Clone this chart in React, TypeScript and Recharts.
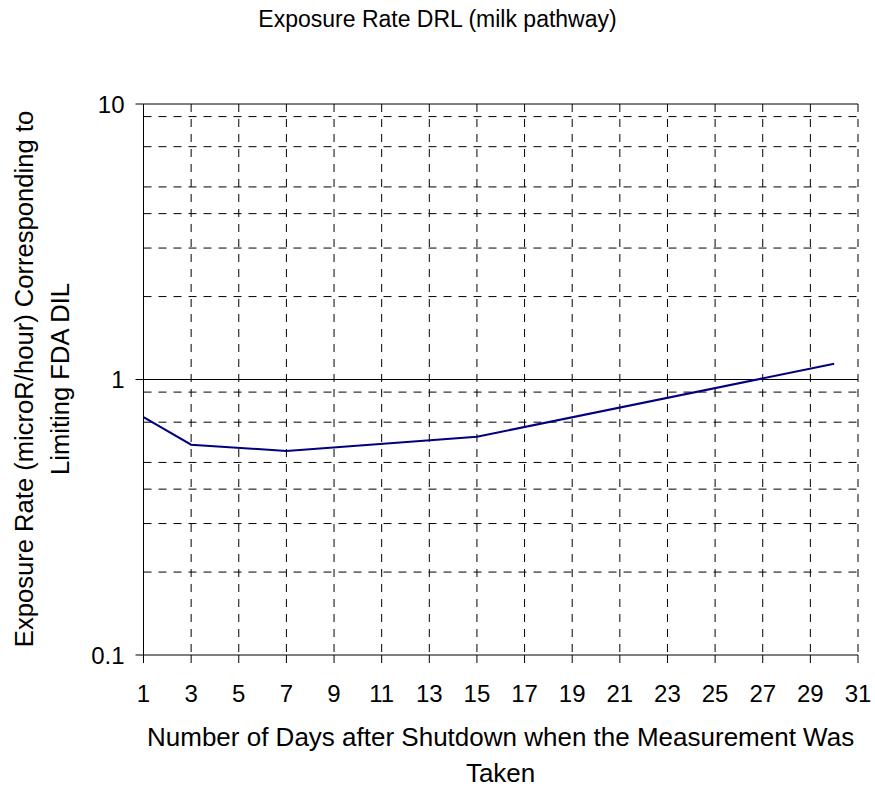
import React from 'react';
import { LineChart, Line, XAxis, YAxis, CartesianGrid, ReferenceLine } from 'recharts';

// days after shutdown where the curve bends, and the exposure rate
const days = [1, 3, 7, 15, 30];
const rates = [0.73, 0.58, 0.55, 0.62, 1.14];

const xTicks = [1, 3, 5, 7, 9, 11, 13, 15, 17, 19, 21, 23, 25, 27, 29, 31];
const yTicks = [0.1, 1, 10];
const minorY = [0.2, 0.3, 0.4, 0.5, 0.6, 0.7, 0.8, 0.9, 2, 3, 4, 5, 6, 7, 8, 9];
const majorY = [1, 10];

const FONT = '"Liberation Sans", Arial, sans-serif';

const data = days.map((d, i) => ({ day: d, rate: rates[i] }));

const App: React.FC = () => {
    return (
        <div style={{ position: 'absolute', left: 0, top: 0, width: 875, height: 788, background: '#fff', fontFamily: FONT }}>
            <LineChart width={875} height={788} data={data} margin={{ top: 104, right: 17, bottom: 73, left: 0 }}>
                <CartesianGrid
                    stroke="#000"
                    strokeDasharray="8 7"
                    horizontalValues={minorY}
                    verticalValues={xTicks.slice(1)}
                />
                {majorY.map(v => (
                    <ReferenceLine key={v} y={v} stroke="#000" strokeWidth={1} ifOverflow="visible" />
                ))}
                <XAxis
                    type="number"
                    dataKey="day"
                    domain={[1, 31]}
                    ticks={xTicks}
                    interval={0}
                    height={60}
                    tickSize={8}
                    tickMargin={22}
                    axisLine={{ stroke: '#000' }}
                    tickLine={{ stroke: '#000' }}
                    tick={{ fill: '#000', fontSize: 24, fontFamily: FONT }}
                />
                <YAxis
                    scale="log"
                    domain={[0.1, 10]}
                    ticks={yTicks}
                    allowDataOverflow
                    width={143.5}
                    tickSize={8}
                    tickMargin={11}
                    tickFormatter={(v: number) => String(v)}
                    axisLine={{ stroke: '#000' }}
                    tickLine={{ stroke: '#000' }}
                    tick={{ fill: '#000', fontSize: 24, fontFamily: FONT }}
                />
                <Line
                    type="linear"
                    dataKey="rate"
                    stroke="#000080"
                    strokeWidth={2}
                    dot={false}
                    isAnimationActive={false}
                />
            </LineChart>
            <svg width={875} height={788} style={{ position: 'absolute', left: 0, top: 0, pointerEvents: 'none' }}>
                <text x={437.5} y={27} textAnchor="middle" fontSize={23} fontFamily={FONT} fill="#000">
                    Exposure Rate DRL (milk pathway)
                </text>
                <text x={500.6} y={746} textAnchor="middle" fontSize={26} fontFamily={FONT} fill="#000">
                    Number of Days after Shutdown when the Measurement Was
                </text>
                <text x={500.6} y={782} textAnchor="middle" fontSize={26} fontFamily={FONT} fill="#000">
                    Taken
                </text>
                <text transform="translate(33,379) rotate(-90)" textAnchor="middle" fontSize={25.6} fontFamily={FONT} fill="#000">
                    Exposure Rate (microR/hour) Corresponding to
                </text>
                <text transform="translate(69,379) rotate(-90)" textAnchor="middle" fontSize={25.6} fontFamily={FONT} fill="#000">
                    Limiting FDA DIL
                </text>
            </svg>
        </div>
    );
};

export default App;
